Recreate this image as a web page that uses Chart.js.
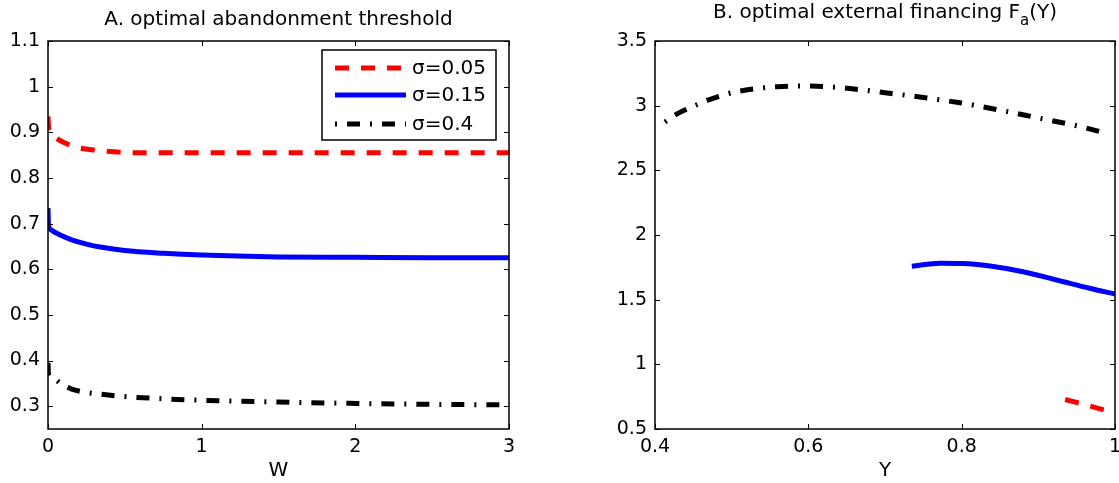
<!DOCTYPE html>
<html><head><meta charset="utf-8">
<script src="https://cdn.jsdelivr.net/npm/chart.js@4"></script>
<style>
html,body{margin:0;padding:0;background:#fff;width:1119px;height:483px;overflow:hidden}
#ca{position:absolute;left:0;top:0;width:540px;height:483px}
#cb{position:absolute;left:560px;top:0;width:559px;height:483px}
</style></head><body>
<canvas id="ca" width="540" height="483"></canvas>
<canvas id="cb" width="559" height="483"></canvas>
<script>
// ---------- Panel A: optimal abandonment threshold vs W ----------
const seriesLabels = ['σ=0.05', 'σ=0.15', 'σ=0.4'];

const wA_s005 = [0, 0.005, 0.02, 0.05, 0.1, 0.15, 0.2, 0.3, 0.45, 0.6, 1, 1.5, 2, 2.5, 3];
const thrA_s005 = [0.935, 0.905, 0.896, 0.888, 0.878, 0.871, 0.866, 0.861, 0.857, 0.855, 0.855, 0.855, 0.855, 0.855, 0.855];

const wA_s015 = [0, 0.003, 0.01, 0.03, 0.08, 0.15, 0.25, 0.35, 0.5, 0.75, 1, 1.5, 2, 2.5, 3];
const thrA_s015 = [0.734, 0.700, 0.690, 0.684, 0.675, 0.665, 0.655, 0.648, 0.641, 0.635, 0.631, 0.627, 0.626, 0.625, 0.625];

const wA_s04 = [0, 0.003, 0.03, 0.08, 0.15, 0.25, 0.35, 0.5, 0.7, 1, 1.5, 2, 2.5, 3];
const thrA_s04 = [0.395, 0.370, 0.362, 0.350, 0.338, 0.330, 0.326, 0.321, 0.317, 0.313, 0.309, 0.306, 0.304, 0.303];

const xTicksA = [0, 1, 2, 3];
const yTicksA = [0.3, 0.4, 0.5, 0.6, 0.7, 0.8, 0.9, 1, 1.1];

// ---------- Panel B: optimal external financing Fa(Y) ----------
const yB_s005 = [0.935, 0.96, 0.989];
const fB_s005 = [0.728, 0.690, 0.642];

const yB_s015 = [0.735, 0.772, 0.802, 0.837, 0.88, 0.924, 0.967, 1.0];
const fB_s015 = [1.759, 1.782, 1.780, 1.760, 1.716, 1.652, 1.588, 1.543];

const yB_s04 = [0.413, 0.43, 0.45, 0.47, 0.5, 0.53, 0.56, 0.59, 0.62, 0.65, 0.7, 0.75, 0.8, 0.85, 0.9, 0.95, 0.99];
const fB_s04 = [2.874, 2.94, 2.995, 3.045, 3.10, 3.13, 3.147, 3.152, 3.148, 3.135, 3.10, 3.063, 3.02, 2.965, 2.905, 2.845, 2.784];

const xTicksB = [0.4, 0.6, 0.8, 1];
const yTicksB = [0.5, 1, 1.5, 2, 2.5, 3, 3.5];

// ---------- styling ----------
const FONT = 'DejaVu Sans';
const styles = [
  {color: '#ff0000', dash: [14, 12]},
  {color: '#0000ff', dash: []},
  {color: '#000000', dash: [2, 10, 13, 10]}
];

function pts(xs, ys) { return xs.map((x, i) => ({x: x, y: ys[i]})); }
function fmt(v) { return String(+Number(v).toFixed(2)); }

function makeDatasets(pairs, offsets) {
  return pairs.map((p, i) => ({
    label: seriesLabels[i],
    data: pts(p[0], p[1]),
    borderColor: styles[i].color,
    backgroundColor: styles[i].color,
    borderDash: styles[i].dash,
    borderDashOffset: offsets[i],
    borderWidth: 5,
    borderCapStyle: 'butt',
    pointRadius: 0,
    fill: false,
    cubicInterpolationMode: 'monotone'
  }));
}

const framePlugin = {
  id: 'frame',
  afterDatasetsDraw(chart) {
    const {ctx, chartArea: a, scales: {x, y}} = chart;
    ctx.save();
    ctx.strokeStyle = '#000';
    ctx.lineWidth = 1.5;
    ctx.setLineDash([]);
    ctx.strokeRect(a.left, a.top, a.right - a.left, a.bottom - a.top);
    ctx.lineWidth = 1;
    const L = 5;
    ctx.beginPath();
    x.ticks.forEach(t => {
      const px = Math.round(x.getPixelForValue(t.value)) + 0.5;
      ctx.moveTo(px, a.bottom); ctx.lineTo(px, a.bottom - L);
      ctx.moveTo(px, a.top); ctx.lineTo(px, a.top + L);
    });
    y.ticks.forEach(t => {
      const py = Math.round(y.getPixelForValue(t.value)) + 0.5;
      ctx.moveTo(a.left, py); ctx.lineTo(a.left + L, py);
      ctx.moveTo(a.right, py); ctx.lineTo(a.right - L, py);
    });
    ctx.stroke();
    ctx.restore();
  },
  afterDraw(chart, args, opts) {
    const {ctx, chartArea: a} = chart;
    ctx.save();
    ctx.fillStyle = '#000';
    const cx = (a.left + a.right) / 2;
    if (opts.title) {
      ctx.font = '20px "' + FONT + '"';
      ctx.textAlign = 'center';
      ctx.textBaseline = 'alphabetic';
      ctx.fillText(opts.title, cx, 25);
    }
    if (opts.titleParts) {
      const [t1, sub, t2] = opts.titleParts;
      const big = '20px "' + FONT + '"', small = '15px "' + FONT + '"';
      ctx.textAlign = 'left';
      ctx.textBaseline = 'alphabetic';
      ctx.font = big; const w1 = ctx.measureText(t1).width; const w3 = ctx.measureText(t2).width;
      ctx.font = small; const w2 = ctx.measureText(sub).width;
      let x0 = cx - (w1 + w2 + w3) / 2;
      const base = 18;
      ctx.font = big; ctx.fillText(t1, x0, base);
      ctx.font = small; ctx.fillText(sub, x0 + w1, base + 7);
      ctx.font = big; ctx.fillText(t2, x0 + w1 + w2, base);
    }
    if (opts.legend) {
      const lg = opts.legend;
      ctx.fillStyle = '#fff';
      ctx.fillRect(lg.x, lg.y, lg.w, lg.h);
      ctx.strokeStyle = '#000';
      ctx.lineWidth = 1.5;
      ctx.setLineDash([]);
      ctx.strokeRect(lg.x, lg.y, lg.w, lg.h);
      chart.data.datasets.forEach((ds, i) => {
        const ry = lg.rows[i];
        ctx.beginPath();
        ctx.strokeStyle = ds.borderColor;
        ctx.lineWidth = ds.borderWidth;
        ctx.lineCap = 'butt';
        ctx.setLineDash(ds.borderDash || []);
        ctx.lineDashOffset = 0;
        ctx.moveTo(lg.x + 13, ry);
        ctx.lineTo(lg.x + 84, ry);
        ctx.stroke();
        ctx.setLineDash([]);
        ctx.fillStyle = '#000';
        ctx.font = '20px "' + FONT + '"';
        ctx.textAlign = 'left';
        ctx.textBaseline = 'middle';
        ctx.fillText(ds.label, lg.x + 90, ry + 1);
      });
    }
    ctx.restore();
  }
};

function makeChart(id, datasets, cfg) {
  return new Chart(document.getElementById(id), {
    type: 'line',
    data: {datasets: datasets},
    plugins: [framePlugin],
    options: {
      responsive: false,
      animation: false,
      layout: {padding: {top: 41, right: cfg.padRight, left: 0, bottom: 0}},
      plugins: {
        legend: {display: false},
        tooltip: {enabled: false},
        title: {display: false},
        frame: cfg.frame
      },
      scales: {
        x: {
          type: 'linear', min: cfg.xMin, max: cfg.xMax,
          grid: {display: false, drawTicks: false},
          border: {display: false},
          ticks: {color: '#000', font: {family: FONT, size: 19}, padding: 7, maxRotation: 0, callback: fmt},
          afterBuildTicks: s => { s.ticks = cfg.xTicks.map(v => ({value: v})); },
          afterFit: s => { s.height = 54; s.paddingLeft = 0; s.paddingRight = 0; },
          title: {display: true, text: cfg.xTitle, color: '#000', font: {family: FONT, size: 20}, padding: {top: 0, bottom: 0}}
        },
        y: {
          type: 'linear', min: cfg.yMin, max: cfg.yMax,
          grid: {display: false, drawTicks: false},
          border: {display: false},
          ticks: {color: '#000', font: {family: FONT, size: 19}, padding: 8, callback: fmt},
          afterBuildTicks: s => { s.ticks = cfg.yTicks.map(v => ({value: v})); },
          afterFit: s => { s.width = cfg.yWidth; s.paddingTop = 0; s.paddingBottom = 0; }
        }
      }
    }
  });
}

makeChart('ca', makeDatasets([[wA_s005, thrA_s005], [wA_s015, thrA_s015], [wA_s04, thrA_s04]], [0, 0, 12]), {
  xMin: 0, xMax: 3, yMin: 0.25, yMax: 1.1,
  xTicks: xTicksA, yTicks: yTicksA, xTitle: 'W',
  yWidth: 48, padRight: 31,
  frame: {
    title: 'A. optimal abandonment threshold',
    legend: {x: 322, y: 50, w: 174, h: 90, rows: [68, 95, 124]}
  }
});

makeChart('cb', makeDatasets([[yB_s005, fB_s005], [yB_s015, fB_s015], [yB_s04, fB_s04]], [0, 0, 0]), {
  xMin: 0.4, xMax: 1, yMin: 0.5, yMax: 3.5,
  xTicks: xTicksB, yTicks: yTicksB, xTitle: 'Y',
  yWidth: 95, padRight: 4,
  frame: {
    titleParts: ['B. optimal external financing F', 'a', '(Y)']
  }
});
</script>
</body></html>
